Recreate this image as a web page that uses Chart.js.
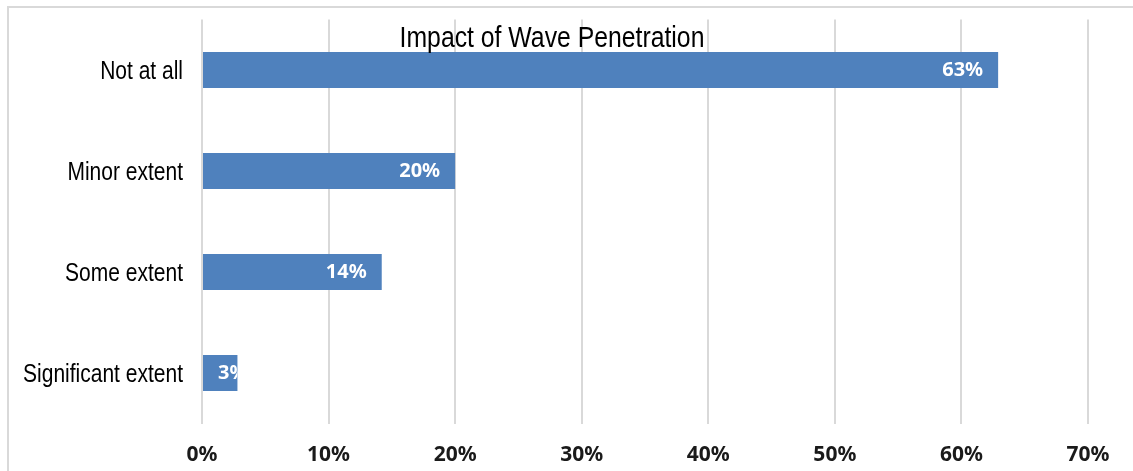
<!DOCTYPE html>
<html>
<head>
<meta charset="utf-8">
<script src="https://cdn.jsdelivr.net/npm/chart.js@4/dist/chart.umd.min.js"></script>
<style>
  html, body { margin: 0; padding: 0; background: #fff; }
  #wrap { position: relative; width: 1133px; height: 471px; overflow: hidden; }
  #frame { position: absolute; left: 7px; top: 6px; width: 1200px; height: 600px;
           border-left: 2px solid #d9d9d9; border-top: 2px solid #d9d9d9; pointer-events: none; }
  canvas { position: absolute; left: 0; top: 0; }
</style>
</head>
<body>
<div id="wrap">
  <div id="frame"></div>
  <canvas id="c" width="1133" height="471"></canvas>
</div>
<script>
const chartTitle = "Impact of Wave Penetration";
const categories = ["Not at all", "Minor extent", "Some extent", "Significant extent"];
const values = [62.9, 20.0, 14.2, 2.8];
const valueLabels = ["63%", "20%", "14%", "3%"];
const xTicks = [0, 10, 20, 30, 40, 50, 60, 70];

const narrowBase = "'Liberation Sans', Arial, sans-serif";
const narrowScale = 0.84;
const boldFamily = "'Noto Sans', 'DejaVu Sans', sans-serif";

function narrowText(ctx, text, x, y, size, align) {
  ctx.save();
  ctx.font = size + "px " + narrowBase;
  ctx.fillStyle = "#000";
  ctx.textBaseline = "alphabetic";
  ctx.textAlign = align;
  ctx.translate(x, y);
  ctx.scale(narrowScale, 1);
  ctx.fillText(text, 0, 0);
  ctx.restore();
}

const textPlugin = {
  id: 'narrowTexts',
  afterDraw(chart) {
    const ctx = chart.ctx;
    narrowText(ctx, chartTitle, 552, 47, 29.5, "center");
    const ys = chart.scales.y;
    chart.data.labels.forEach((lab, i) => {
      narrowText(ctx, lab, chart.chartArea.left - 19, ys.getPixelForValue(i) + 8.5, 25, "right");
    });
  }
};

const labelPlugin = {
  id: 'barLabels',
  afterDatasetsDraw(chart) {
    const ctx = chart.ctx;
    const meta = chart.getDatasetMeta(0);
    ctx.save();
    ctx.font = "bold 20px " + boldFamily;
    ctx.fillStyle = "#fff";
    ctx.textBaseline = "middle";
    ctx.textAlign = "right";
    meta.data.forEach((bar, i) => {
      const p = bar.getProps(['x', 'y', 'base', 'height'], true);
      const w = ctx.measureText(valueLabels[i]).width;
      const xr = Math.max(p.x - 15, p.base + 15 + w);
      ctx.save();
      ctx.beginPath();
      ctx.rect(p.base, p.y - p.height / 2, p.x - p.base, p.height);
      ctx.clip();
      ctx.fillText(valueLabels[i], xr, p.y);
      ctx.restore();
    });
    ctx.restore();
  }
};

new Chart(document.getElementById('c'), {
  type: 'bar',
  data: {
    labels: categories,
    datasets: [{
      data: values,
      backgroundColor: '#4F81BD',
      borderWidth: 0,
      barPercentage: 0.71,
      categoryPercentage: 0.5
    }]
  },
  options: {
    indexAxis: 'y',
    responsive: false,
    animation: false,
    devicePixelRatio: 1,
    layout: { padding: { top: 19.5, right: 45, left: 0, bottom: 0 } },
    plugins: { legend: { display: false }, tooltip: { enabled: false }, title: { display: false } },
    scales: {
      x: {
        min: 0, max: 70,
        afterBuildTicks(s) { s.ticks = xTicks.map(v => ({ value: v })); },
        afterFit(s) { s.height = 47.5; s.paddingLeft = 0; s.paddingRight = 0; },
        ticks: {
          padding: 19,
          color: '#1a1a1a',
          font: { family: boldFamily, size: 21, weight: 'bold' },
          callback: v => v + '%'
        },
        grid: { color: '#d9d9d9', lineWidth: 2, drawTicks: false },
        border: { display: false }
      },
      y: {
        afterFit(s) { s.width = 202; s.paddingTop = 0; s.paddingBottom = 0; },
        ticks: { display: false },
        grid: { display: false, drawTicks: false },
        border: { display: false }
      }
    }
  },
  plugins: [textPlugin, labelPlugin]
});
</script>
</body>
</html>
